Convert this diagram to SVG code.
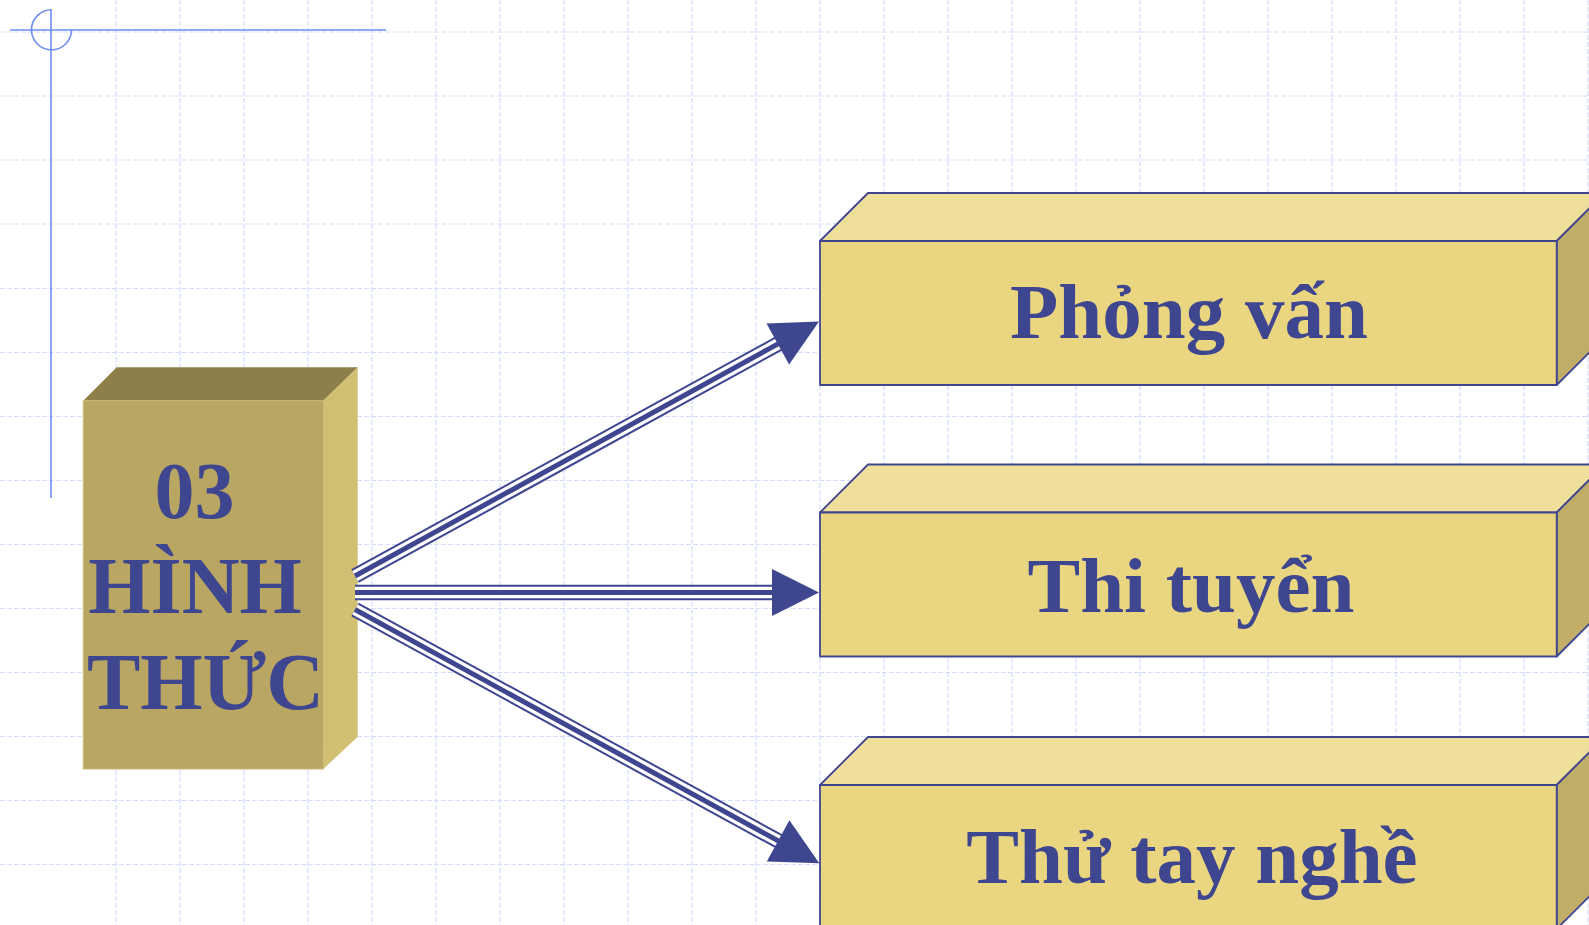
<svg xmlns="http://www.w3.org/2000/svg" width="1589" height="925" viewBox="0 0 1589 925">
  <defs>
    <style>
      .grid line { stroke: #D3DCFA; stroke-width: 1.2; stroke-dasharray: 5 2; }
      .deco { stroke: #6E8EF2; stroke-width: 1.6; fill: none; }
      .outer { stroke: #3F4690; stroke-width: 15.5; fill: none; }
      .gap { stroke: #FFFFFF; stroke-width: 11.5; fill: none; }
      .inner { stroke: #3F4690; stroke-width: 5; fill: none; }
      .head { fill: #3F4690; stroke: none; }
      .bfront { fill: #EAD680; stroke: #3F4690; stroke-width: 1.8; stroke-linejoin: round; }
      .btop { fill: #F0DF9B; stroke: #3F4690; stroke-width: 1.8; stroke-linejoin: round; }
      .bside { fill: #BFAD68; stroke: #3F4690; stroke-width: 1.8; stroke-linejoin: round; }
      .lbl { font-family: "Liberation Serif", "Times New Roman", serif; font-weight: bold; font-size: 79px; fill: #3F4690; text-anchor: middle; }
      .mlbl { font-family: "Liberation Serif", "Times New Roman", serif; font-weight: bold; font-size: 80px; fill: #3F4690; }
    </style>
  </defs>
  <rect x="0" y="0" width="1589" height="925" fill="#FFFFFF"/>
  <g class="grid">
    <line x1="116" y1="0" x2="116" y2="925"/>
    <line x1="180" y1="0" x2="180" y2="925"/>
    <line x1="244" y1="0" x2="244" y2="925"/>
    <line x1="308" y1="0" x2="308" y2="925"/>
    <line x1="372" y1="0" x2="372" y2="925"/>
    <line x1="436" y1="0" x2="436" y2="925"/>
    <line x1="500" y1="0" x2="500" y2="925"/>
    <line x1="564" y1="0" x2="564" y2="925"/>
    <line x1="628" y1="0" x2="628" y2="925"/>
    <line x1="692" y1="0" x2="692" y2="925"/>
    <line x1="756" y1="0" x2="756" y2="925"/>
    <line x1="820" y1="0" x2="820" y2="925"/>
    <line x1="884" y1="0" x2="884" y2="925"/>
    <line x1="948" y1="0" x2="948" y2="925"/>
    <line x1="1012" y1="0" x2="1012" y2="925"/>
    <line x1="1076" y1="0" x2="1076" y2="925"/>
    <line x1="1140" y1="0" x2="1140" y2="925"/>
    <line x1="1204" y1="0" x2="1204" y2="925"/>
    <line x1="1268" y1="0" x2="1268" y2="925"/>
    <line x1="1332" y1="0" x2="1332" y2="925"/>
    <line x1="1396" y1="0" x2="1396" y2="925"/>
    <line x1="1460" y1="0" x2="1460" y2="925"/>
    <line x1="1524" y1="0" x2="1524" y2="925"/>
    <line x1="1588" y1="0" x2="1588" y2="925"/>
    <line x1="0" y1="32" x2="1589" y2="32"/>
    <line x1="0" y1="96" x2="1589" y2="96"/>
    <line x1="0" y1="160" x2="1589" y2="160"/>
    <line x1="0" y1="224" x2="1589" y2="224"/>
    <line x1="0" y1="288.5" x2="1589" y2="288.5"/>
    <line x1="0" y1="352.5" x2="1589" y2="352.5"/>
    <line x1="0" y1="416.5" x2="1589" y2="416.5"/>
    <line x1="0" y1="480.5" x2="1589" y2="480.5"/>
    <line x1="0" y1="544.5" x2="1589" y2="544.5"/>
    <line x1="0" y1="608.5" x2="1589" y2="608.5"/>
    <line x1="0" y1="672.5" x2="1589" y2="672.5"/>
    <line x1="0" y1="736.5" x2="1589" y2="736.5"/>
    <line x1="0" y1="800.5" x2="1589" y2="800.5"/>
    <line x1="0" y1="864.5" x2="1589" y2="864.5"/>
  </g>
  <g id="corner-decoration">
    <line class="deco" x1="10" y1="30" x2="386" y2="30"/>
    <line class="deco" x1="51" y1="9.5" x2="51" y2="498"/>
    <path class="deco" d="M 51.5 9.8 A 20 20 0 1 0 71.5 29.8"/>
  </g>
  <g id="node-hinh-thuc">
    <polygon points="83.3,400.7 116.7,367.3 357.7,367.3 323.3,400.7" fill="#8C7F4C"/>
    <polygon points="323.3,400.7 357.7,367.3 357.7,736.7 323.3,769" fill="#D1BF72"/>
    <rect x="83.3" y="400.7" width="240" height="368.3" fill="#B8A662" stroke="#C9B977" stroke-width="1"/>
    <text class="mlbl" x="194.5" y="517.7" text-anchor="middle">03</text>
    <text class="mlbl" x="195" y="613.3" text-anchor="middle">HÌNH</text>
    <text class="mlbl" x="87" y="709">THỨC</text>
  </g>
  <g id="connectors">
    <g id="arrow-phong-van">
      <line class="outer" x1="355" y1="576" x2="779" y2="343.4"/>
      <line class="gap" x1="355" y1="576" x2="779" y2="343.4"/>
      <line class="inner" x1="355" y1="576" x2="779" y2="343.4"/>
      <polygon class="head" points="819,321.4 766.5,323.4 789.1,364.6"/>
    </g>
    <g id="arrow-thi-tuyen">
      <line class="outer" x1="355" y1="592.6" x2="773.5" y2="592.6"/>
      <line class="gap" x1="355" y1="592.6" x2="773.5" y2="592.6"/>
      <line class="inner" x1="355" y1="592.6" x2="773.5" y2="592.6"/>
      <polygon class="head" points="819,592.6 772,569.1 772,616.1"/>
    </g>
    <g id="arrow-thu-tay-nghe">
      <line class="outer" x1="355" y1="609.5" x2="779" y2="841.3"/>
      <line class="gap" x1="355" y1="609.5" x2="779" y2="841.3"/>
      <line class="inner" x1="355" y1="609.5" x2="779" y2="841.3"/>
      <polygon class="head" points="819.3,863.3 766.8,861.4 789.4,820.2"/>
    </g>
  </g>
  <g id="node-phong-van">
    <polygon class="btop" points="820,241 868,193 1604.7,193 1556.7,241"/>
    <polygon class="bside" points="1556.7,241 1604.7,193 1604.7,337 1556.7,385"/>
    <rect class="bfront" x="820" y="241" width="736.7" height="144"/>
    <text class="lbl" x="1189" y="338">Phỏng vấn</text>
  </g>
  <g id="node-thi-tuyen">
    <polygon class="btop" points="820,512.5 868,464.5 1604.7,464.5 1556.7,512.5"/>
    <polygon class="bside" points="1556.7,512.5 1604.7,464.5 1604.7,608.5 1556.7,656.5"/>
    <rect class="bfront" x="820" y="512.5" width="736.7" height="144"/>
    <text class="lbl" x="1191" y="611.5">Thi tuyển</text>
  </g>
  <g id="node-thu-tay-nghe">
    <polygon class="btop" points="820,785 868,737 1604.7,737 1556.7,785"/>
    <polygon class="bside" points="1556.7,785 1604.7,737 1604.7,881 1556.7,929"/>
    <rect class="bfront" x="820" y="785" width="736.7" height="144"/>
    <text class="lbl" x="1192" y="883.3">Thử tay nghề</text>
  </g>
</svg>
